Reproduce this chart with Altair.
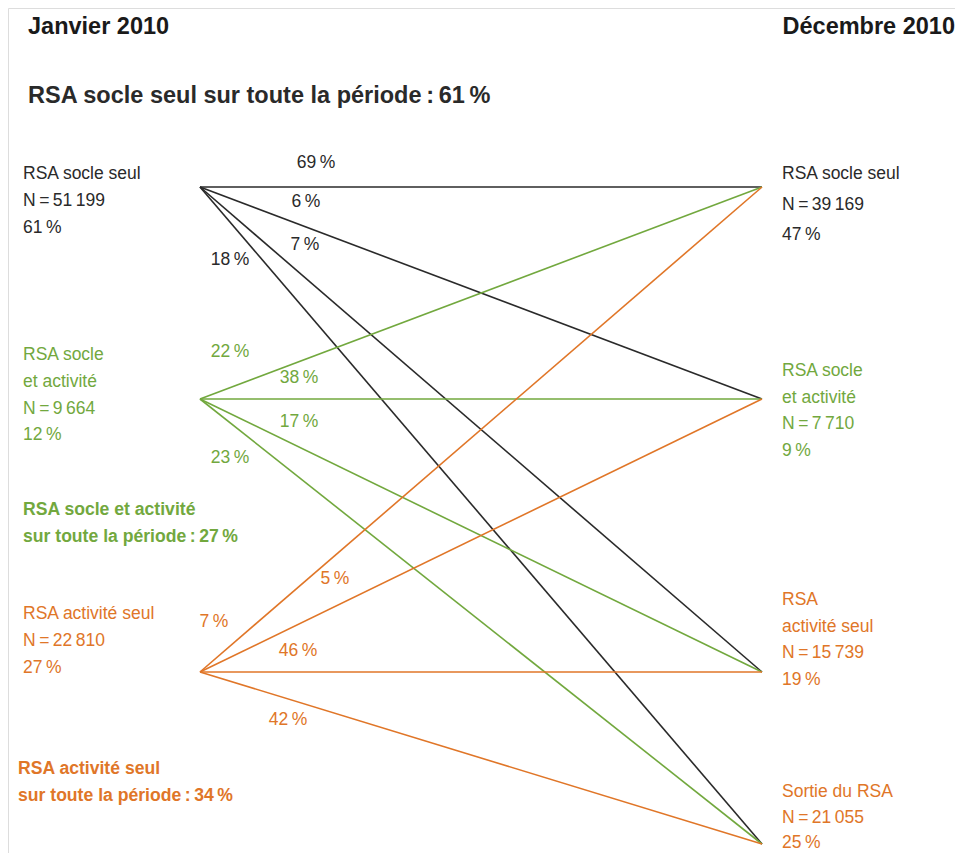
import altair as alt
import pandas as pd

# ---------------- data ----------------
LEFT_NODES = ["RSA socle seul", "RSA socle et activité", "RSA activité seul"]
LEFT_N = [51199, 9664, 22810]
LEFT_SHARE = [61, 12, 27]

RIGHT_NODES = ["RSA socle seul", "RSA socle et activité", "RSA activité seul", "Sortie du RSA"]
RIGHT_N = [39169, 7710, 15739, 21055]
RIGHT_SHARE = [47, 9, 19, 25]

# share of each January state going to each December state (rows: left, cols: right)
TRANSITION_PCT = [
    [69, 6, 7, 18],
    [22, 38, 17, 23],
    [7, 5, 46, 42],
]

STABLE_LABELS = ["RSA socle seul", "RSA socle et activité", "RSA activité seul"]
STABLE_PCT = [61, 27, 34]

LEFT_TITLE = "Janvier 2010"
RIGHT_TITLE = "Décembre 2010"

# ---------------- layout / style ----------------
FONT = "Liberation Sans"
BLACK = "#2a2a2a"
GREEN = "#72a83e"
ORANGE = "#e07628"
GROUP_COLORS = [BLACK, GREEN, ORANGE]
RIGHT_TEXT_COLORS = [BLACK, GREEN, ORANGE, ORANGE]

OFF = 8  # page margin
X_LEFT, X_RIGHT = 200, 762
Y_LEFT = [187, 399, 672]
Y_RIGHT = [187, 399, 672, 844]

LEFT_LINES = [["RSA socle seul"], ["RSA socle", "et activité"], ["RSA activité seul"]]
RIGHT_LINES = [["RSA socle seul"], ["RSA socle", "et activité"], ["RSA", "activité seul"], ["Sortie du RSA"]]
LEFT_TEXT_TOP = [174, 355, 614]
RIGHT_TEXT_TOP = [174, 371, 600, 792]
LEFT_STEP = 26.8
RIGHT_STEP = [30.5, 26.7, 26.7, 25.5]

# positions (centre) of the percentage labels on the flows
FLOW_LABEL_POS = [
    [(316, 163), (306, 202), (305, 245), (230, 260)],
    [(230, 352), (299, 378), (299, 422), (230, 458)],
    [(214, 622), (335, 579), (298, 651), (288, 720)],
]

STABLE_POS = [(28, 96), (23, 510), (18, 769)]

REG_SIZE = 17.5
NOTE_SIZE = 17.6
BIG_SIZE = 23.5


def fmt_n(n):
    return "N\u2009=\u2009" + f"{n:,}".replace(",", "\u2009")


def fmt_pct(p):
    return f"{p}\u2009%"


W, H = 947, 845
xs = alt.Scale(domain=[0, W], range=[0, W])
ys = alt.Scale(domain=[0, H], range=[0, H])


def text_layer(df, size, weight="normal", align="left", color=None):
    enc = dict(
        x=alt.X("x:Q", scale=xs, axis=None),
        y=alt.Y("y:Q", scale=ys, axis=None),
        text="text:N",
    )
    kw = dict(font=FONT, fontSize=size, fontWeight=weight, align=align, baseline="middle")
    if color is None:
        enc["color"] = alt.Color("color:N", scale=None)
    else:
        kw["color"] = color
    return alt.Chart(df).mark_text(**kw).encode(**enc)


# ---- flow lines ----
flows = []
for i, row in enumerate(TRANSITION_PCT):
    for j, p in enumerate(row):
        flows.append(dict(x=X_LEFT - OFF, y=Y_LEFT[i] - OFF, x2=X_RIGHT - OFF, y2=Y_RIGHT[j] - OFF,
                          color=GROUP_COLORS[i], pct=p))
flows_df = pd.DataFrame(flows)

lines = alt.Chart(flows_df).mark_rule(strokeWidth=1.6).encode(
    x=alt.X("x:Q", scale=xs, axis=None),
    y=alt.Y("y:Q", scale=ys, axis=None),
    x2="x2:Q",
    y2="y2:Q",
    color=alt.Color("color:N", scale=None),
)

# ---- flow labels ----
flab = []
for i, row in enumerate(TRANSITION_PCT):
    for j, p in enumerate(row):
        lx, ly = FLOW_LABEL_POS[i][j]
        flab.append(dict(x=lx - OFF, y=ly - OFF, text=fmt_pct(p), color=GROUP_COLORS[i]))
flow_labels = text_layer(pd.DataFrame(flab), REG_SIZE, align="center")

# ---- node labels ----
nodes = []
for i, name in enumerate(LEFT_NODES):
    ls = LEFT_LINES[i] + [fmt_n(LEFT_N[i]), fmt_pct(LEFT_SHARE[i])]
    for k, t in enumerate(ls):
        nodes.append(dict(x=23 - OFF, y=LEFT_TEXT_TOP[i] + k * LEFT_STEP - OFF, text=t, color=GROUP_COLORS[i]))
for j, name in enumerate(RIGHT_NODES):
    ls = RIGHT_LINES[j] + [fmt_n(RIGHT_N[j]), fmt_pct(RIGHT_SHARE[j])]
    for k, t in enumerate(ls):
        nodes.append(dict(x=782 - OFF, y=RIGHT_TEXT_TOP[j] + k * RIGHT_STEP[j] - OFF, text=t,
                          color=RIGHT_TEXT_COLORS[j]))
node_labels = text_layer(pd.DataFrame(nodes), REG_SIZE)

# ---- stable-state bold notes ----
notes_big = pd.DataFrame([dict(x=STABLE_POS[0][0] - OFF, y=STABLE_POS[0][1] - OFF,
                               text=f"{STABLE_LABELS[0]} sur toute la période\u2009:\u2009{fmt_pct(STABLE_PCT[0])}",
                               color=BLACK)])
notes = []
for i in (1, 2):
    x0, y0 = STABLE_POS[i]
    notes.append(dict(x=x0 - OFF, y=y0 - OFF, text=STABLE_LABELS[i], color=GROUP_COLORS[i]))
    notes.append(dict(x=x0 - OFF, y=y0 + 27 - OFF,
                      text=f"sur toute la période\u2009:\u2009{fmt_pct(STABLE_PCT[i])}", color=GROUP_COLORS[i]))
notes_small = text_layer(pd.DataFrame(notes), NOTE_SIZE, weight="bold")
notes_large = text_layer(notes_big, BIG_SIZE, weight="bold")

# ---- column titles ----
title_l = text_layer(pd.DataFrame([dict(x=28 - OFF, y=27 - OFF, text=LEFT_TITLE)]),
                     BIG_SIZE, weight="bold", align="left", color="#1a1a1a")
title_r = text_layer(pd.DataFrame([dict(x=W, y=27 - OFF, text=RIGHT_TITLE)]),
                     BIG_SIZE, weight="bold", align="right", color="#1a1a1a")

chart = alt.layer(
    lines, flow_labels, node_labels, notes_small, notes_large, title_l, title_r
).properties(
    width=W, height=H, padding=0, autosize=alt.AutoSizeParams(type="none")
).configure_view(strokeWidth=0).configure(background="white")

chart.save("out.html", embed_options={"renderer": "svg", "actions": False})
